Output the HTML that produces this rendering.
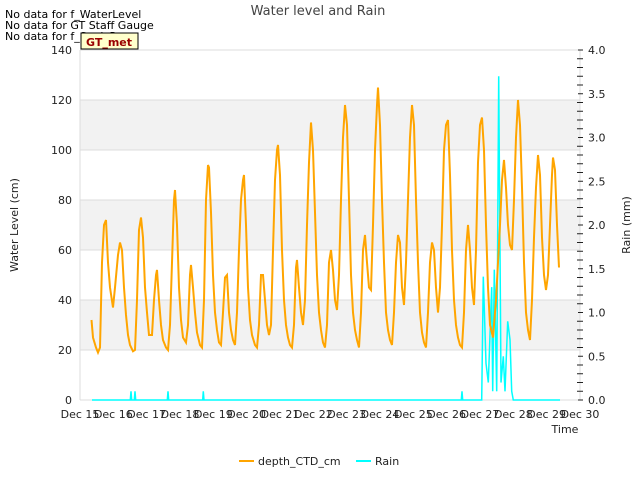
<!DOCTYPE html>
<html><head><meta charset="utf-8"><style>
body{margin:0;background:#fff;font-family:"Liberation Sans","DejaVu Sans",sans-serif}
svg text{font-family:"DejaVu Sans","Liberation Sans",sans-serif}
</style></head><body>
<svg id="chart" width="640" height="480" xmlns="http://www.w3.org/2000/svg">
<rect width="640" height="480" fill="#fff"/>
<g id="bands"></g><g id="grid"></g><g id="xticks"></g><g id="yticks"></g><g id="y2ticks"></g>
<path id="rainLine" fill="none" stroke="#00ffff" stroke-width="1.5"/>
<path id="depthLine" fill="none" stroke="#ffa500" stroke-width="2"/>
<text x="318" y="15" text-anchor="middle" font-size="13" fill="#444">Water level and Rain</text>
<text x="5" y="18" font-size="11" fill="#000">No data for f_WaterLevel</text>
<text x="5" y="29" font-size="11" fill="#000">No data for GT Staff Gauge</text>
<text x="5" y="40" font-size="11" fill="#000">No data for f_SonicRng</text>
<rect x="81" y="33" width="57" height="16" fill="#ffffcc" stroke="#000"/>
<text x="109" y="46" text-anchor="middle" font-size="11" font-weight="bold" fill="#990000">GT_met</text>
<text x="18" y="225" font-size="11" fill="#222" transform="rotate(-90 18 225)" text-anchor="middle">Water Level (cm)</text>
<text x="630" y="225" font-size="11" fill="#222" transform="rotate(-90 630 225)" text-anchor="middle">Rain (mm)</text>
<text x="565" y="433" font-size="11" fill="#222" text-anchor="middle">Time</text>
<g>
<line x1="239" y1="461" x2="254" y2="461" stroke="#ffa500" stroke-width="2"/>
<text x="258" y="465" font-size="11" fill="#222">depth_CTD_cm</text>
<line x1="356" y1="461" x2="371" y2="461" stroke="#00ffff" stroke-width="2"/>
<text x="375" y="465" font-size="11" fill="#222">Rain</text>
</g>
</svg>
<script>
const xLabels=["Dec 15","Dec 16","Dec 17","Dec 18","Dec 19","Dec 20","Dec 21","Dec 22","Dec 23","Dec 24","Dec 25","Dec 26","Dec 27","Dec 28","Dec 29","Dec 30"];
const yTicks=[0,20,40,60,80,100,120,140];
const y2Ticks=[0,0.5,1,1.5,2,2.5,3,3.5,4];
const depthT=[0.345,0.39,0.48,0.54,0.6,0.66,0.72,0.78,0.84,0.9,0.99,1.05,1.14,1.2,1.26,1.32,1.38,1.44,1.5,1.59,1.65,1.71,1.77,1.83,1.89,1.95,2.01,2.07,2.16,2.22,2.28,2.31,2.37,2.43,2.49,2.58,2.64,2.7,2.76,2.82,2.85,2.91,2.97,3.03,3.09,3.18,3.24,3.3,3.33,3.39,3.45,3.51,3.6,3.66,3.72,3.78,3.84,3.87,3.93,3.99,4.05,4.11,4.17,4.23,4.29,4.35,4.41,4.47,4.53,4.59,4.65,4.71,4.77,4.83,4.89,4.92,4.98,5.04,5.1,5.16,5.25,5.31,5.37,5.43,5.49,5.55,5.61,5.67,5.73,5.79,5.85,5.91,5.94,6.0,6.06,6.12,6.18,6.24,6.3,6.36,6.42,6.48,6.51,6.57,6.63,6.69,6.75,6.81,6.87,6.93,6.99,7.05,7.11,7.17,7.23,7.29,7.35,7.41,7.47,7.53,7.59,7.65,7.71,7.77,7.83,7.89,7.95,8.01,8.07,8.13,8.19,8.25,8.31,8.37,8.43,8.49,8.55,8.61,8.67,8.73,8.79,8.85,8.91,8.94,9.0,9.06,9.12,9.18,9.24,9.3,9.36,9.42,9.48,9.54,9.6,9.66,9.72,9.78,9.84,9.9,9.96,10.02,10.08,10.14,10.2,10.26,10.32,10.38,10.44,10.5,10.56,10.62,10.68,10.74,10.8,10.86,10.92,10.98,11.04,11.1,11.16,11.22,11.28,11.34,11.4,11.46,11.52,11.58,11.64,11.7,11.76,11.82,11.88,11.94,12.0,12.06,12.12,12.18,12.24,12.3,12.39,12.42,12.48,12.54,12.6,12.66,12.72,12.78,12.84,12.9,12.96,13.02,13.08,13.14,13.2,13.26,13.32,13.38,13.44,13.5,13.56,13.62,13.68,13.74,13.8,13.86,13.92,13.98,14.04,14.1,14.16,14.19,14.25,14.31,14.37];
const depthV=[32,25,21,19,21,55,70,72,55,45,37,45,58,63,60,45,34,26,22,19.5,20,40,68,73,65,45,35,26,26,40,50,52,40,30,24,21,20,30,55,80,84,70,45,32,25,23,30,50,54,45,35,27,22,21,40,80,94,93,75,50,35,28,23,22,35,49,50,35,28,24,22,35,60,80,88,90,70,45,32,26,22,21,30,50,50,40,30,26,30,60,88,100,102,90,60,40,30,25,22,21,30,53,56,45,35,30,40,70,95,111,100,75,50,35,28,23,21,30,55,60,52,40,36,50,80,105,118,110,80,50,35,28,24,21,35,60,66,55,45,44,70,100,118,125,110,80,55,35,28,24,22,35,55,66,63,45,38,55,80,105,118,110,80,55,35,27,23,21,35,55,63,60,45,35,45,70,100,110,112,90,60,40,30,25,22,21,35,60,70,60,45,38,60,95,110,113,100,70,45,30,25,30,40,55,70,88,96,85,70,62,60,80,105,120,110,85,55,35,28,24,40,65,85,98,90,65,50,44,50,70,90,97,92,70,53];
const rainT=[0.36,1.51,1.53,1.55,1.63,1.65,1.67,2.62,2.64,2.66,3.68,3.7,3.72,11.44,11.46,11.48,12.05,12.1,12.18,12.25,12.35,12.38,12.43,12.5,12.56,12.63,12.7,12.75,12.83,12.9,12.95,13.0,14.4];
const rainV=[0,0,0.1,0,0,0.1,0,0,0.1,0,0,0.1,0,0,0.1,0,0,1.41,0.42,0.2,1.29,0.1,1.49,0.1,3.7,0.2,0.5,0.1,0.9,0.69,0.1,0,0];
const X=d=>80+d*500/15, Y=v=>400-v*350/140, Y2=v=>400-v*350/4;
const NS="http://www.w3.org/2000/svg";
function mk(tag,attrs,parent,txt){const e=document.createElementNS(NS,tag);for(const k in attrs)e.setAttribute(k,attrs[k]);if(txt!==undefined)e.textContent=txt;document.getElementById(parent).appendChild(e);return e;}
for(let i=1;i<yTicks.length-1;i+=2){const b=mk('rect',{x:80,y:Y(yTicks[i+1]),width:500,height:Y(yTicks[i])-Y(yTicks[i+1]),fill:'#f2f2f2'},'bands');

}
yTicks.forEach(v=>{const g=mk('line',{x1:80,x2:580,y1:Y(v),y2:Y(v),stroke:'#dcdcdc'},'grid');


const t=mk('text',{x:72,y:Y(v)+4,'text-anchor':'end','font-size':11,fill:'#222'},'yticks',v);

});
mk('line',{x1:80,x2:80,y1:50,y2:400,stroke:'#dcdcdc'},'grid');
mk('line',{x1:580,x2:580,y1:50,y2:400,stroke:'#dcdcdc'},'grid');
for(let i=0;i<=40;i++){const v=i/10;mk('line',{x1:580,x2:i%5==0?578:577,y1:Y2(v),y2:Y2(v),stroke:'#222'},'y2ticks');mk('line',{x1:580+ (i%5==0?0:0),x2:583,y1:Y2(v),y2:Y2(v),stroke:'#222'},'y2ticks');}
y2Ticks.forEach(v=>{const t=mk('text',{x:588,y:Y2(v)+4,'font-size':11,fill:'#222'},'y2ticks',v.toFixed(1));

});
xLabels.forEach((l,i)=>{const t=mk('text',{x:X(i),y:418,'text-anchor':'middle','font-size':11,fill:'#222'},'xticks',l);

});
document.getElementById('depthLine').setAttribute('d',depthT.map((t,i)=>(i?'L':'M')+X(t).toFixed(1)+','+Y(depthV[i]).toFixed(1)).join(''));
document.getElementById('rainLine').setAttribute('d',rainT.map((t,i)=>(i?'L':'M')+X(t).toFixed(1)+','+Y2(rainV[i]).toFixed(1)).join(''));
</script>
</body></html>
